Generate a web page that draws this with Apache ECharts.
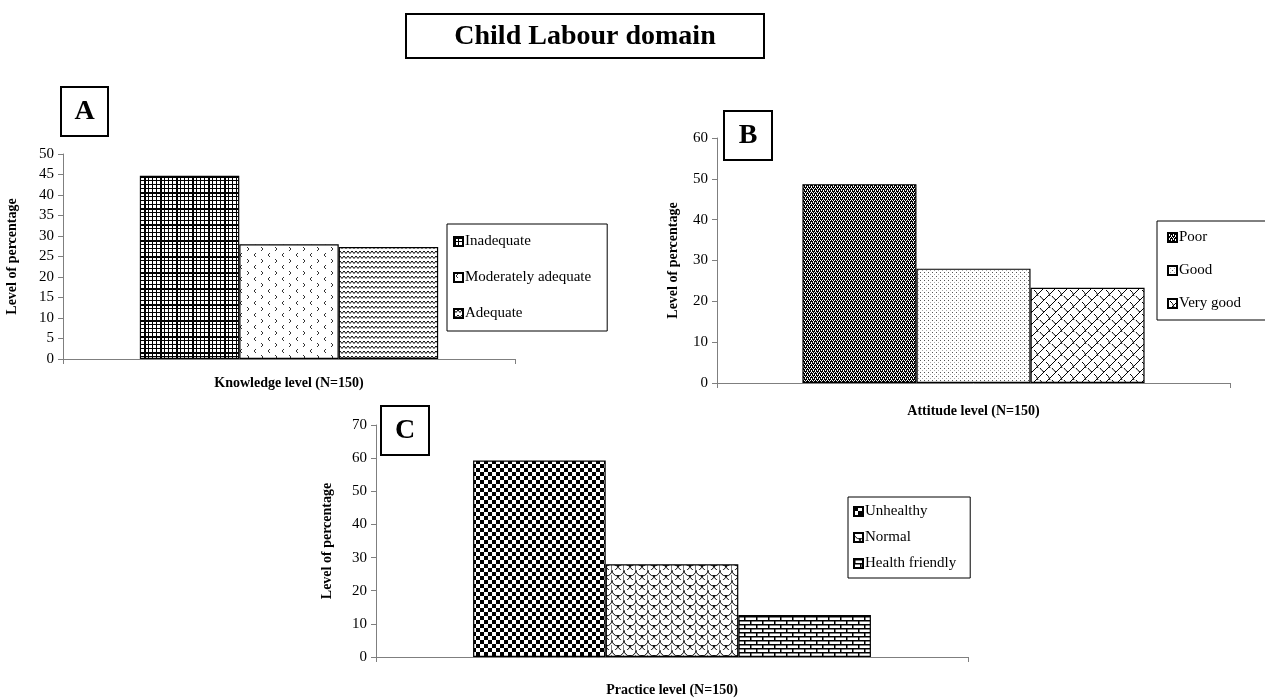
<!DOCTYPE html>
<html>
<head>
<meta charset="utf-8">
<title>Child Labour domain</title>
<script src="https://cdn.jsdelivr.net/npm/echarts@6/dist/echarts.min.js"></script>
<style>
  html, body { margin: 0; padding: 0; background: #fff; }
  #chart { width: 1265px; height: 698px; }
</style>
</head>
<body>
<div id="chart"></div>
<script>
// ---- Data (percentages, N = 150) ----
const knowledgeLevels = ['Inadequate', 'Moderately adequate', 'Adequate'];
const knowledgeValues = [44.7, 28.0, 27.3];

const attitudeLevels = ['Poor', 'Good', 'Very good'];
const attitudeValues = [48.7, 28.0, 23.3];

const practiceLevels = ['Unhealthy', 'Normal', 'Health friendly'];
const practiceValues = [59.3, 28.0, 12.7];

// y-axis scales per panel
const knowledgeAxis = { min: 0, max: 50, interval: 5 };
const attitudeAxis = { min: 0, max: 60, interval: 10 };
const practiceAxis = { min: 0, max: 70, interval: 10 };

const SERIF = '"Liberation Serif", "Times New Roman", serif';

// ---- Hatch fills drawn on small canvases ----
function tile(w, h, draw) {
  const c = document.createElement('canvas');
  c.width = w; c.height = h;
  const g = c.getContext('2d');
  g.fillStyle = '#fff';
  g.fillRect(0, 0, w, h);
  g.fillStyle = '#000';
  g.strokeStyle = '#000';
  draw(g, w, h);
  return { image: c, repeat: 'repeat' };
}

const fills = {
  // fine square grid with heavier lines every fourth cell
  grid: tile(16, 16, g => {
    for (let i = 0; i < 16; i += 4) {
      g.fillRect(i, 0, 1, 16);
      g.fillRect(0, i, 16, 1);
    }
    g.fillRect(0, 0, 2, 16);
    g.fillRect(0, 0, 16, 2);
  }),
  // sparse chevron marks
  chevrons: tile(14, 12, g => {
    g.lineWidth = 1;
    g.strokeStyle = '#333';
    g.beginPath();
    g.moveTo(4, 1); g.lineTo(2, 3); g.lineTo(4, 5);
    g.moveTo(9, 7); g.lineTo(11, 9); g.lineTo(9, 11);
    g.stroke();
  }),
  // dense horizontal waves
  waves: tile(8, 5, g => {
    g.lineWidth = 1;
    g.beginPath();
    g.moveTo(0, 1); g.lineTo(2, 3.5); g.lineTo(4, 1); g.lineTo(6, 3.5); g.lineTo(8, 1);
    g.stroke();
  }),
  // fine dark checker
  fineChecker: tile(4, 4, g => {
    g.fillRect(0, 0, 4, 4);
    g.fillStyle = '#fff';
    g.fillRect(0, 0, 1, 1);
    g.fillRect(2, 0, 1, 1);
    g.fillRect(1, 2, 1, 1);
    g.fillRect(3, 2, 1, 1);
    g.fillRect(1, 1, 1, 1);
    g.fillRect(3, 3, 1, 1);
  }),
  // light dotted screen
  dots: tile(4, 4, g => {
    g.fillStyle = '#555';
    g.fillRect(0, 0, 1, 1);
    g.fillStyle = '#aaa';
    g.fillRect(2, 2, 1, 1);
  }),
  // diagonal lattice
  lattice: tile(12, 12, g => {
    g.lineWidth = 1;
    g.beginPath();
    g.moveTo(0, 12); g.lineTo(12, 0);
    g.moveTo(-6, 6); g.lineTo(0, 0);
    g.moveTo(12, 12); g.lineTo(18, 6);
    g.moveTo(2, 2); g.quadraticCurveTo(5, 4, 6, 8);
    g.moveTo(8, 8); g.quadraticCurveTo(10, 11, 12, 12);
    g.stroke();
  }),
  // bold checkerboard
  checker: tile(8, 8, g => {
    g.fillRect(0, 0, 4, 4);
    g.fillRect(4, 4, 4, 4);
  }),
  // overlapping scales
  scales: tile(12, 10, g => {
    g.lineWidth = 1;
    g.beginPath();
    g.arc(6, 0, 6, 0, Math.PI);
    g.moveTo(6, 5);
    g.arc(0, 5, 6, 0, Math.PI / 2);
    g.moveTo(12, 5);
    g.arc(12, 5, 6, Math.PI / 2, Math.PI);
    g.stroke();
  }),
  // brick wall
  bricks: tile(12, 8, g => {
    g.fillRect(0, 0, 12, 1.5);
    g.fillRect(0, 4, 12, 1.5);
    g.fillRect(0, 0, 1.5, 4);
    g.fillRect(6, 4, 1.5, 4);
  })
};

// ---- Panel geometry ----
const panels = [
  {
    key: 'A', levels: knowledgeLevels, values: knowledgeValues, axis: knowledgeAxis,
    xName: 'Knowledge level (N=150)', fills: [fills.grid, fills.chevrons, fills.waves],
    grid: { left: 63, top: 154, width: 452, height: 205 }, nameGapY: 44, nameGapX: 17,
    gap: '34%',
    legend: { left: 447, top: 224, itemGap: 21, padding: [10, 16, 10, 6] },
    box: { x: 60, y: 86, w: 47, h: 49 }
  },
  {
    key: 'B', levels: attitudeLevels, values: attitudeValues, axis: attitudeAxis,
    xName: 'Attitude level (N=150)', fills: [fills.fineChecker, fills.dots, fills.lattice],
    grid: { left: 717, top: 138, width: 513, height: 245 }, nameGapY: 37, nameGapX: 21,
    gap: '33.3%',
    legend: { left: 1157, top: 221, itemGap: 18, padding: [9, 40, 9, 10] },
    box: { x: 723, y: 110, w: 48, h: 49 }
  },
  {
    key: 'C', levels: practiceLevels, values: practiceValues, axis: practiceAxis,
    xName: 'Practice level (N=150)', fills: [fills.checker, fills.scales, fills.bricks],
    grid: { left: 376, top: 425, width: 592, height: 238 }, nameGapY: 42, nameGapX: 26,
    gap: '32.8%',
    legend: { left: 848, top: 497, itemGap: 11, padding: [7, 14, 7, 5] },
    box: { x: 380, y: 405, w: 48, h: 49 }
  }
];

const grids = [], xAxes = [], yAxes = [], series = [], legends = [], graphics = [];

panels.forEach((p, i) => {
  grids.push(Object.assign({ containLabel: false }, p.grid));

  xAxes.push({
    type: 'category',
    gridIndex: i,
    data: [''],
    boundaryGap: true,
    name: p.xName,
    nameLocation: 'middle',
    nameGap: p.nameGapX,
    nameTextStyle: { fontFamily: SERIF, fontWeight: 'bold', fontSize: 14, color: '#000' },
    axisLine: { lineStyle: { color: '#7f7f7f', width: 1 } },
    axisTick: { show: true, length: 5, lineStyle: { color: '#7f7f7f' } },
    axisLabel: { show: false },
    splitLine: { show: false }
  });

  yAxes.push({
    type: 'value',
    gridIndex: i,
    min: p.axis.min,
    max: p.axis.max,
    interval: p.axis.interval,
    name: 'Level of percentage',
    nameLocation: 'middle',
    nameRotate: 90,
    nameGap: p.nameGapY,
    nameTextStyle: { fontFamily: SERIF, fontWeight: 'bold', fontSize: 14, color: '#000' },
    axisLine: { show: true, lineStyle: { color: '#7f7f7f', width: 1 } },
    axisTick: { show: true, length: 5, lineStyle: { color: '#7f7f7f' } },
    axisLabel: { fontFamily: SERIF, fontSize: 15, color: '#000', margin: 9 },
    splitLine: { show: false }
  });

  p.levels.forEach((name, j) => {
    series.push({
      type: 'bar',
      name: name,
      xAxisIndex: i,
      yAxisIndex: i,
      data: [p.values[j]],
      barGap: '0%',
      barCategoryGap: p.gap,
      itemStyle: { color: p.fills[j], borderColor: '#000', borderWidth: 1.2 },
      emphasis: { disabled: true },
      animation: false
    });
  });

  legends.push({
    data: p.levels,
    orient: 'vertical',
    left: p.legend.left,
    top: p.legend.top,
    itemGap: p.legend.itemGap,
    padding: p.legend.padding,
    itemWidth: 9,
    itemHeight: 9,
    icon: 'rect',
    borderColor: '#000',
    borderWidth: 1,
    selectedMode: false,
    textStyle: { fontFamily: SERIF, fontSize: 15, color: '#000', padding: [0, 0, 0, -3] }
  });

  // panel letter in a framed box
  graphics.push({
    type: 'group',
    left: p.box.x,
    top: p.box.y,
    children: [
      { type: 'rect', shape: { x: 0, y: 0, width: p.box.w, height: p.box.h },
        style: { fill: '#fff', stroke: '#000', lineWidth: 2 } },
      { type: 'text', x: p.box.w / 2, y: p.box.h / 2,
        style: { text: p.key, font: 'bold 28px ' + SERIF, fill: '#000',
                 textAlign: 'center', textVerticalAlign: 'middle' } }
    ]
  });
});

// overall heading
graphics.push({
  type: 'group',
  left: 405,
  top: 13,
  children: [
    { type: 'rect', shape: { x: 0, y: 0, width: 358, height: 44 },
      style: { fill: '#fff', stroke: '#000', lineWidth: 2 } },
    { type: 'text', x: 179, y: 23,
      style: { text: 'Child Labour domain', font: 'bold 28px ' + SERIF, fill: '#000',
               textAlign: 'center', textVerticalAlign: 'middle' } }
  ]
});

const chart = echarts.init(document.getElementById('chart'), null, { renderer: 'canvas' });
chart.setOption({
  backgroundColor: '#fff',
  animation: false,
  grid: grids,
  xAxis: xAxes,
  yAxis: yAxes,
  legend: legends,
  series: series,
  graphic: graphics
});
</script>
</body>
</html>
